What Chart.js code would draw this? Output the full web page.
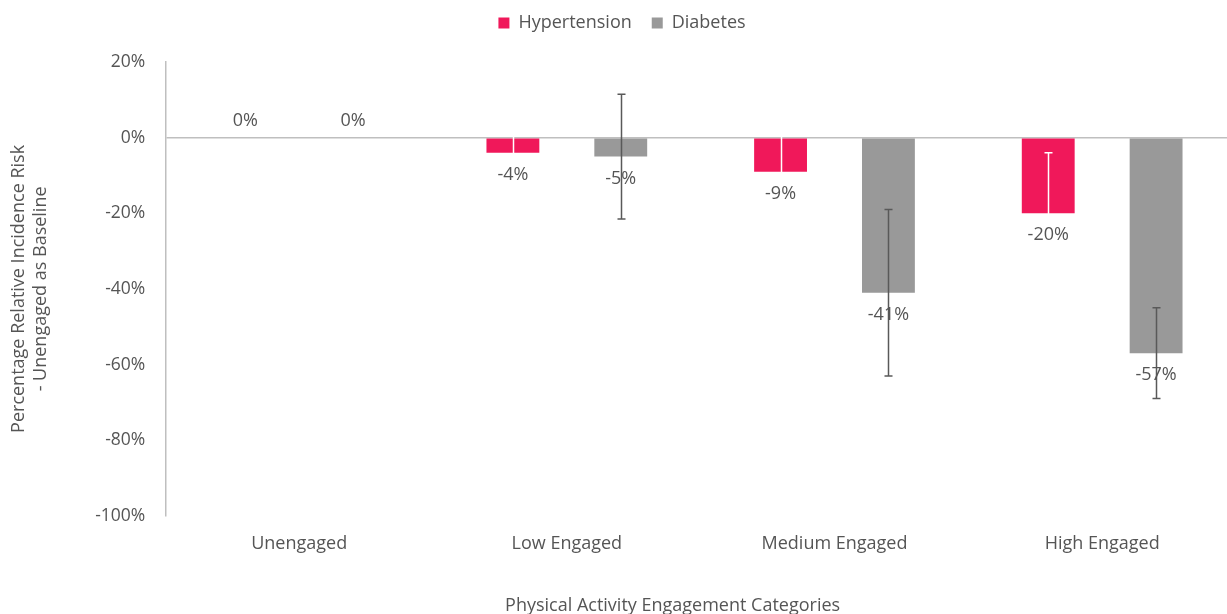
<!DOCTYPE html>
<html>
<head>
<meta charset="utf-8">
<script src="https://cdn.jsdelivr.net/npm/chart.js@4"></script>
<style>
  html, body { margin: 0; padding: 0; background: #fff; overflow: hidden; }
</style>
</head>
<body>
<canvas id="chart" width="1236" height="614"></canvas>
<script>
const categories = ["Unengaged", "Low Engaged", "Medium Engaged", "High Engaged"];
const hypertension = [0, -4, -9, -20];
const diabetes = [0, -5, -41, -57];
// error bar ends (low, high)
const hyperErrLow = [null, -12, -20, -36];
const hyperErrHigh = [null, 4, 2, -4];
const diabErrLow = [null, -21.5, -63, -69];
const diabErrHigh = [null, 11.5, -19, -45];
const yTicks = [20, 0, -20, -40, -60, -80, -100];

const textColor = "#555555";
const font = "'Open Sans', sans-serif";

// extra room under the legend
const legendGap = {
  id: "legendGap",
  beforeInit(chart) {
    const fit = chart.legend.fit;
    chart.legend.fit = function () {
      fit.bind(chart.legend)();
      this.height += 20;
    };
  }
};

// error bars + value labels
const extras = {
  id: "extras",
  afterDatasetsDraw(chart) {
    const ctx = chart.ctx;
    const y = chart.scales.y;
    const errs = [[hyperErrLow, hyperErrHigh, "#ffffff"], [diabErrLow, diabErrHigh, "#595959"]];
    chart.data.datasets.forEach((ds, di) => {
      const meta = chart.getDatasetMeta(di);
      meta.data.forEach((bar, i) => {
        const lo = errs[di][0][i], hi = errs[di][1][i];
        if (lo === null) return;
        const x = Math.round(bar.x) + 0.5;
        const y1 = y.getPixelForValue(hi), y2 = y.getPixelForValue(lo);
        ctx.save();
        ctx.strokeStyle = errs[di][2];
        ctx.lineWidth = 1.5;
        ctx.beginPath();
        ctx.moveTo(x, y1); ctx.lineTo(x, y2);
        ctx.moveTo(x - 4, y1); ctx.lineTo(x + 4, y1);
        ctx.moveTo(x - 4, y2); ctx.lineTo(x + 4, y2);
        ctx.stroke();
        ctx.restore();
      });
    });
    chart.data.datasets.forEach((ds, di) => {
      const meta = chart.getDatasetMeta(di);
      meta.data.forEach((bar, i) => {
        const v = ds.data[i];
        ctx.save();
        ctx.fillStyle = textColor;
        ctx.font = "18px " + font;
        ctx.textAlign = "center";
        ctx.textBaseline = "middle";
        const ty = v < 0 ? bar.y + 22 : bar.y - 17;
        ctx.fillText(v + "%", bar.x, ty);
        ctx.restore();
      });
    });
  }
};

new Chart(document.getElementById("chart"), {
  type: "bar",
  data: {
    labels: categories,
    datasets: [
      { label: "Hypertension", data: hypertension, backgroundColor: "#F0185A",
        categoryPercentage: 0.806, barPercentage: 0.49 },
      { label: "Diabetes", data: diabetes, backgroundColor: "#999999",
        categoryPercentage: 0.806, barPercentage: 0.49 }
    ]
  },
  options: {
    responsive: false,
    animation: false,
    layout: { padding: { left: 8, right: 0, top: -6, bottom: -3 } },
    plugins: {
      legend: {
        position: "top",
        labels: {
          boxWidth: 11, boxHeight: 11, padding: 20,
          color: textColor, font: { family: font, size: 18 }
        }
      },
      tooltip: { enabled: false }
    },
    scales: {
      x: {
        grid: { display: false },
        border: { display: false },
        ticks: { color: textColor, font: { family: font, size: 18 }, padding: 9 },
        title: {
          display: true, text: "Physical Activity Engagement Categories" + " ".repeat(12),
          color: textColor, font: { family: font, size: 18 }, padding: { top: 32, bottom: 0 }
        }
      },
      y: {
        min: -100, max: 20,
        afterBuildTicks: (axis) => { axis.ticks = yTicks.map(v => ({ value: v })); },
        grid: {
          drawTicks: false,
          color: (c) => c.tick && c.tick.value === 0 ? "#bfbfbf" : "rgba(0,0,0,0)",
          lineWidth: 1.5
        },
        border: { display: true, color: "#bfbfbf", width: 1.5 },
        ticks: {
          color: textColor, font: { family: font, size: 17.5 }, padding: 20,
          callback: (v) => v + "%"
        },
        title: {
          display: true,
          text: ["Percentage Relative Incidence Risk", "- Unengaged as Baseline"],
          color: textColor, font: { family: font, size: 18 }, padding: { top: 0, bottom: 24 }
        }
      }
    }
  },
  plugins: [extras, legendGap]
});
</script>
</body>
</html>
